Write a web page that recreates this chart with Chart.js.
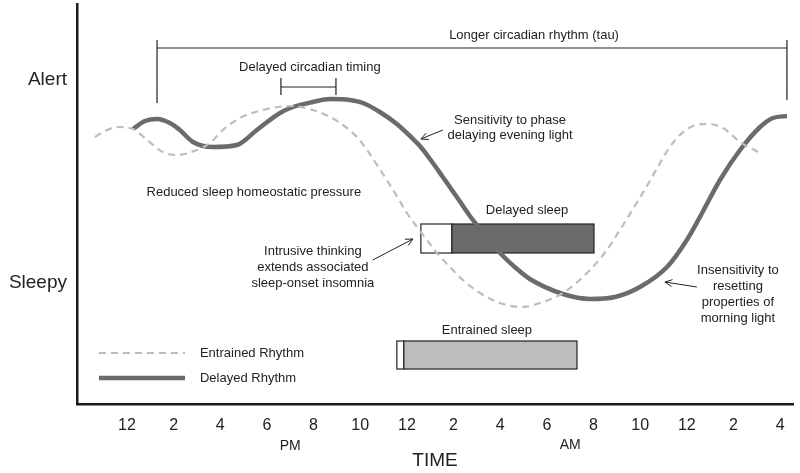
<!DOCTYPE html>
<html>
<head>
<meta charset="utf-8">
<script src="https://cdn.jsdelivr.net/npm/chart.js@4.4.1/dist/chart.umd.min.js"></script>
<style>
  html, body { margin: 0; padding: 0; background: #fff; }
  #wrap { width: 800px; height: 473px; }
</style>
</head>
<body>
<div id="wrap"><canvas id="rhythmChart"></canvas></div>
<script>
// x = hours after noon of the first day, y = alertness (0 sleepy .. 100 alert)
const tickHours = [0, 2, 4, 6, 8, 10, 12, 14, 16, 18, 20, 22, 24, 26, 28];
const tickLabels = ['12', '2', '4', '6', '8', '10', '12', '2', '4', '6', '8', '10', '12', '2', '4'];
const alertnessTicks = [30.25, 81];
const alertnessLabels = ['Sleepy', 'Alert'];

const entrainedHours = [-1.37, -0.94, -0.39, 0.26, 0.86, 1.54, 2.14, 3.0, 3.56, 4.11, 4.84, 5.83, 6.99, 7.97,
  8.70, 9.26, 9.86, 10.29, 10.72, 11.14, 11.57, 12.0, 12.43, 12.86, 13.29, 13.84, 14.40, 15.13, 15.99, 16.93,
  17.70, 18.69, 19.72, 20.57, 21.13, 21.69, 22.29, 22.85, 23.27, 23.70, 24.26, 24.86, 25.55, 26.28, 27.05];
const entrainedLevels = [66.75, 68.25, 69.25, 68.75, 66.0, 63.0, 62.25, 63.5, 65.25, 68.5, 71.5, 73.5, 74.5, 73.5,
  71.75, 69.75, 66.75, 63.5, 59.75, 56.0, 52.0, 47.75, 44.25, 41.0, 37.75, 34.25, 31.0, 27.75, 25.25, 24.25,
  25.25, 27.75, 32.75, 38.5, 43.5, 48.75, 54.5, 60.25, 64.25, 67.25, 69.5, 70.0, 69.0, 65.5, 63.0];

const delayedHours = [0.26, 0.77, 1.29, 1.84, 2.27, 2.83, 3.69, 4.71, 5.57, 6.56, 7.12, 7.97, 8.70, 9.56, 10.12,
  10.84, 11.57, 12.13, 12.56, 12.99, 13.54, 14.14, 14.70, 15.56, 16.12, 16.72, 17.27, 18.69, 19.85, 20.92,
  21.99, 23.15, 24.0, 24.56, 25.42, 26.28, 27.14, 27.69, 28.29];
const delayedLevels = [68.75, 70.75, 71.25, 70.25, 68.5, 65.5, 64.25, 64.75, 68.5, 72.75, 74.25, 75.5, 76.25, 76.0, 75.25,
  73.0, 70.0, 67.0, 64.5, 61.25, 56.75, 51.75, 47.0, 40.75, 37.0, 33.75, 31.25, 27.5, 26.25, 26.75,
  29.25, 34.25, 41.0, 46.75, 56.0, 63.5, 69.25, 71.5, 72.0];

// lights out, sleep onset, wake up (hours after noon)
const entrainedSleep = [11.57, 11.87, 19.29];
const delayedSleep = [12.6, 13.93, 20.02];

const inkColor = '#222';
const fontFamily = '"Liberation Sans", Arial, Helvetica, sans-serif';

function toPoints(hours, levels) {
    return hours.map((h, i) => ({ x: h, y: levels[i] }));
}

function drawArrow(ctx, x1, y1, x2, y2) {
    const angle = Math.atan2(y2 - y1, x2 - x1);
    const head = 8;
    ctx.beginPath();
    ctx.moveTo(x1, y1);
    ctx.lineTo(x2, y2);
    ctx.moveTo(x2 - head * Math.cos(angle - 0.45), y2 - head * Math.sin(angle - 0.45));
    ctx.lineTo(x2, y2);
    ctx.lineTo(x2 - head * Math.cos(angle + 0.45), y2 - head * Math.sin(angle + 0.45));
    ctx.stroke();
}

const sleepBars = {
    id: 'sleepBars',
    beforeDatasetsDraw(chart) {
        const { ctx, scales: { x, y } } = chart;
        const bars = [
            { hours: delayedSleep, top: 45, bottom: 37.75, fill: '#6b6b6b' },
            { hours: entrainedSleep, top: 15.75, bottom: 8.75, fill: '#bdbdbd' }
        ];
        ctx.save();
        ctx.lineWidth = 1.2;
        ctx.strokeStyle = inkColor;
        bars.forEach(bar => {
            const yTop = y.getPixelForValue(bar.top);
            const yBot = y.getPixelForValue(bar.bottom);
            const xOut = x.getPixelForValue(bar.hours[0]);
            const xOn = x.getPixelForValue(bar.hours[1]);
            const xWake = x.getPixelForValue(bar.hours[2]);
            ctx.fillStyle = '#fff';
            ctx.fillRect(xOut, yTop, xOn - xOut, yBot - yTop);
            ctx.strokeRect(xOut, yTop, xOn - xOut, yBot - yTop);
            ctx.fillStyle = bar.fill;
            ctx.fillRect(xOn, yTop, xWake - xOn, yBot - yTop);
            ctx.strokeRect(xOn, yTop, xWake - xOn, yBot - yTop);
        });
        ctx.restore();
    }
};

const notes = {
    id: 'notes',
    afterDraw(chart) {
        const { ctx, scales: { x, y } } = chart;
        const px = h => x.getPixelForValue(h);
        const py = v => y.getPixelForValue(v);

        ctx.save();
        ctx.fillStyle = inkColor;
        ctx.strokeStyle = inkColor;
        ctx.textAlign = 'center';
        ctx.textBaseline = 'middle';

        // texte
        ctx.font = '13px ' + fontFamily;
        const labels = [
            ['Longer circadian rhythm (tau)', 17.45, 92.25],
            ['Delayed circadian timing', 7.84, 84.25],
            ['Sensitivity to phase', 16.42, 71],
            ['delaying evening light', 16.42, 67.25],
            ['Reduced sleep homeostatic pressure', 5.44, 53],
            ['Delayed sleep', 17.15, 48.5],
            ['Intrusive thinking', 7.97, 38.25],
            ['extends associated', 7.97, 34.25],
            ['sleep-onset insomnia', 7.97, 30.25],
            ['Insensitivity to', 26.19, 33.5],
            ['resetting', 26.19, 29.5],
            ['properties of', 26.19, 25.5],
            ['morning light', 26.19, 21.5],
            ['Entrained sleep', 15.43, 18.5]
        ];
        labels.forEach(([str, h, v]) => ctx.fillText(str, px(h), py(v)));

        // brackets
        ctx.lineWidth = 1.2;
        ctx.beginPath();
        ctx.moveTo(px(1.29), py(89));
        ctx.lineTo(px(28.29), py(89));
        ctx.moveTo(px(1.29), py(91));
        ctx.lineTo(px(1.29), py(75.25));
        ctx.moveTo(px(28.29), py(91));
        ctx.lineTo(px(28.29), py(76));
        ctx.moveTo(px(6.6), py(79.25));
        ctx.lineTo(px(8.96), py(79.25));
        ctx.moveTo(px(6.6), py(81.5));
        ctx.lineTo(px(6.6), py(77.25));
        ctx.moveTo(px(8.96), py(81.5));
        ctx.lineTo(px(8.96), py(77.25));
        ctx.stroke();

        // arrows
        ctx.lineWidth = 1;
        drawArrow(ctx, px(13.54), py(68.5), px(12.6), py(66.25));
        drawArrow(ctx, px(10.54), py(36), px(12.26), py(41.25));
        drawArrow(ctx, px(24.43), py(29.25), px(23.06), py(30.5));

        // AM / PM
        ctx.font = '14px ' + fontFamily;
        ctx.fillText('PM', px(7), 446);
        ctx.fillText('AM', px(19), 445);

        // legend
        ctx.lineWidth = 2.2;
        ctx.strokeStyle = '#bdbdbd';
        ctx.setLineDash([7, 5]);
        ctx.beginPath();
        ctx.moveTo(px(-1.2), py(12.75));
        ctx.lineTo(px(2.49), py(12.75));
        ctx.stroke();
        ctx.setLineDash([]);
        ctx.lineWidth = 4.5;
        ctx.strokeStyle = '#6b6b6b';
        ctx.beginPath();
        ctx.moveTo(px(-1.2), py(6.5));
        ctx.lineTo(px(2.49), py(6.5));
        ctx.stroke();
        ctx.font = '13px ' + fontFamily;
        ctx.textAlign = 'left';
        ctx.fillText('Entrained Rhythm', px(3.13), py(12.75));
        ctx.fillText('Delayed Rhythm', px(3.13), py(6.5));
        ctx.restore();
    }
};

Chart.defaults.font.family = fontFamily;
Chart.defaults.color = inkColor;

new Chart(document.getElementById('rhythmChart'), {
    type: 'line',
    data: {
        datasets: [
            {
                label: 'Entrained Rhythm',
                data: toPoints(entrainedHours, entrainedLevels),
                borderColor: '#bdbdbd',
                borderWidth: 2.2,
                borderDash: [7, 5],
                pointRadius: 0,
                cubicInterpolationMode: 'monotone',
                fill: false
            },
            {
                label: 'Delayed Rhythm',
                data: toPoints(delayedHours, delayedLevels),
                borderColor: '#6b6b6b',
                borderWidth: 4.5,
                pointRadius: 0,
                cubicInterpolationMode: 'monotone',
                fill: false
            }
        ]
    },
    options: {
        responsive: true,
        maintainAspectRatio: false,
        animation: false,
        devicePixelRatio: 1,
        layout: { padding: { top: 4, right: 7, bottom: 0, left: 0 } },
        plugins: {
            legend: { display: false },
            tooltip: { enabled: false }
        },
        scales: {
            x: {
                type: 'linear',
                min: -2.14,
                max: 28.55,
                grid: { display: false, drawTicks: false },
                border: { display: true, color: '#1a1a1a', width: 2.5 },
                afterBuildTicks: scale => {
                    scale.ticks = tickHours.map(v => ({ value: v }));
                },
                afterFit: scale => {
                    scale.height = 69;
                    scale.paddingLeft = 0;
                    scale.paddingRight = 0;
                },
                ticks: {
                    autoSkip: false,
                    maxRotation: 0,
                    padding: 12,
                    font: { size: 16 },
                    color: inkColor,
                    callback: (value, index) => tickLabels[index]
                },
                title: {
                    display: true,
                    text: 'TIME',
                    font: { size: 19 },
                    color: inkColor,
                    padding: { top: 0, bottom: 1 }
                }
            },
            y: {
                type: 'linear',
                min: 0,
                max: 100,
                grid: { display: false, drawTicks: false },
                border: { display: true, color: '#1a1a1a', width: 2.5 },
                afterBuildTicks: scale => {
                    scale.ticks = alertnessTicks.map(v => ({ value: v }));
                },
                afterFit: scale => {
                    scale.width = 77;
                    scale.paddingTop = 0;
                    scale.paddingBottom = 0;
                },
                ticks: {
                    padding: 10,
                    font: { size: 19 },
                    color: inkColor,
                    callback: (value, index) => alertnessLabels[index]
                }
            }
        }
    },
    plugins: [sleepBars, notes]
});
</script>
</body>
</html>
